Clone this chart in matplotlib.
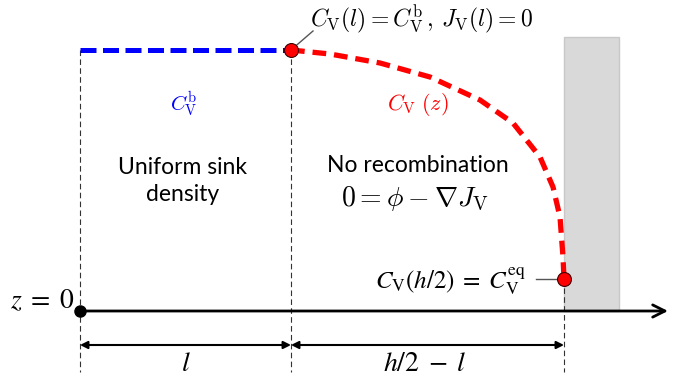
import matplotlib
matplotlib.use("Agg")
import matplotlib.pyplot as plt
from matplotlib.patches import Rectangle

# ---- data (pixel coordinates, y downwards) ----
node_x = [80, 291, 564]             # z = 0, z = l, z = h/2
axis_y = 311
axis_end_x = 668
plateau_y = 50                      # C_V^b level
curve_x = [291, 330, 380, 430, 480, 513, 540, 553, 560, 563, 564]
curve_y = [50, 54, 63, 77, 100, 123, 157, 187, 217, 257, 279]
wall_x = [564, 619]
wall_top = 37
dim_y = 345

fig = plt.figure(figsize=(6.73, 3.78), dpi=100)
ax = fig.add_axes([0, 0, 1, 1])
ax.set_xlim(0, 673)
ax.set_ylim(378, 0)
ax.axis("off")

# grey wall
ax.add_patch(Rectangle((wall_x[0], wall_top), wall_x[1] - wall_x[0], axis_y - wall_top,
                       facecolor="#d9d9d9", edgecolor="#c8c8c8", lw=1, zorder=1))

# thin dashed guide lines
ax.plot([node_x[0], node_x[0]], [plateau_y, 372], color="#333333", lw=0.8, dashes=(5, 3), zorder=2)
ax.plot([node_x[1], node_x[1]], [plateau_y, 372], color="#333333", lw=0.8, dashes=(5, 3), zorder=2)
ax.plot([node_x[2], node_x[2]], [curve_y[-1], 372], color="#333333", lw=0.8, dashes=(5, 3), zorder=2)

# main axis arrow
ax.annotate("", xy=(axis_end_x, axis_y), xytext=(node_x[0], axis_y),
            arrowprops=dict(arrowstyle="->", lw=2, color="black", mutation_scale=22,
                            shrinkA=0, shrinkB=0), zorder=3)
ax.plot(node_x[0], axis_y, "o", color="black", ms=8, zorder=4)

# dimension arrows
for a, b in [(node_x[0], node_x[1]), (node_x[1], node_x[2])]:
    ax.annotate("", xy=(b, dim_y), xytext=(a, dim_y),
                arrowprops=dict(arrowstyle="<|-|>", lw=1.5, color="black", mutation_scale=11,
                                shrinkA=0, shrinkB=0), zorder=3)

# plateau (blue) and profile (red)
ax.plot([node_x[0], node_x[1]], [plateau_y, plateau_y], color="#0000ff", lw=3.6,
        dashes=(3.2, 1.3), solid_capstyle="butt", zorder=4)
ax.plot(curve_x, curve_y, color="#ff0000", lw=3.8, dashes=(2.6, 1.5), zorder=4)
ax.plot(node_x[1], plateau_y, "o", color="#ff0000", mec="#400000", mew=0.8, ms=10, zorder=5)
ax.plot(node_x[2], curve_y[-1], "o", color="#ff0000", mec="#400000", mew=0.8, ms=10, zorder=5)

# leader lines
ax.plot([node_x[1], 313], [plateau_y, 31], color="#555555", lw=1, zorder=3)
ax.plot([536, 558], [279, 279], color="#555555", lw=1, zorder=3)

# texts
ax.text(310, 20, r"$C_{\mathrm{V}}(l) = C_{\mathrm{V}}^{\mathrm{b}}\,,\,J_{\mathrm{V}}(l) = 0$",
        fontsize=17, math_fontfamily="cm", ha="left", va="center")
ax.text(184, 104, r"$C_{\mathrm{V}}^{\mathrm{b}}$", fontsize=15, color="#0000ff",
        math_fontfamily="cm", ha="center", va="center")
ax.text(418, 104, r"$C_{\mathrm{V}}\;(z)$", fontsize=16, color="#ff0000",
        math_fontfamily="cm", ha="center", va="center")
ax.text(183, 181, "Uniform sink\ndensity", fontsize=16.5, family="Lato",
        ha="center", va="center", linespacing=1.35)
ax.text(418, 165, "No recombination", fontsize=16.5, family="Lato", ha="center", va="center")
ax.text(415, 199, r"$0 = \phi - \nabla J_{\mathrm{V}}$", fontsize=20, math_fontfamily="cm",
        ha="center", va="center")
ax.text(526, 281, r"$C_{\mathrm{V}}(h/2)\;=\;C_{\mathrm{V}}^{\mathrm{eq}}$", fontsize=18,
        math_fontfamily="stix", ha="right", va="center")
ax.text(42, 300, r"$z\;=\;0$", fontsize=20, math_fontfamily="stix", ha="center", va="center")
ax.text(186, 363, r"$l$", fontsize=20, math_fontfamily="stix", ha="center", va="center")
ax.text(425, 363, r"$h/2\;-\;l$", fontsize=20, math_fontfamily="stix", ha="center", va="center")

fig.savefig("out.png", dpi=100)
